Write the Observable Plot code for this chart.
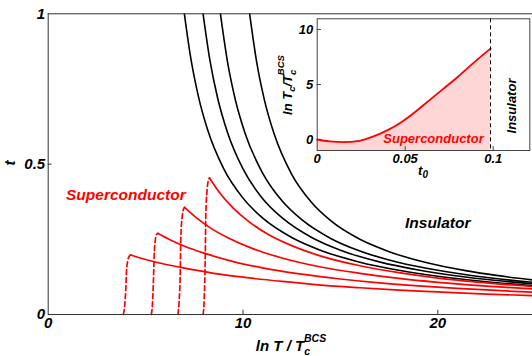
<!DOCTYPE html>
<html><head><meta charset="utf-8">
<script src="https://cdn.jsdelivr.net/npm/d3@7"></script>
<script src="https://cdn.jsdelivr.net/npm/@observablehq/plot@0.6"></script>
<style>
body{margin:0;background:#fff;}
#wrap{position:relative;width:532px;height:356px;overflow:hidden;}
</style></head><body><div id="wrap"></div>
<script>
// ---- Main chart data: t vs ln T/Tc^BCS ----
const xTicks = [0, 10, 20];
const yTicks = [0, 0.5, 1];

const black1X = [6.99, 7.3, 7.7, 8.2, 9, 10, 11, 12.5, 14, 16, 18, 20, 22.5, 24.86];
const black1T = [1.0, 0.860, 0.728, 0.611, 0.486, 0.387, 0.321, 0.256, 0.213, 0.174, 0.147, 0.127, 0.109, 0.096];
const black2X = [7.95, 8.3, 8.7, 9.2, 10, 11, 12, 13.5, 15, 17, 19, 21, 23, 24.86];
const black2T = [1.0, 0.846, 0.719, 0.606, 0.484, 0.386, 0.322, 0.257, 0.214, 0.175, 0.148, 0.128, 0.113, 0.102];
const black3X = [8.84, 9.2, 9.6, 10.1, 11, 12, 13, 14.5, 16, 18, 20, 22, 24.86];
const black3T = [1.0, 0.842, 0.716, 0.604, 0.471, 0.378, 0.316, 0.253, 0.211, 0.173, 0.147, 0.127, 0.107];
const black4X = [10.34, 10.7, 11.1, 11.6, 12.5, 13.5, 14.5, 16, 17.5, 19.5, 21.5, 23, 24.86];
const black4T = [1.0, 0.840, 0.713, 0.600, 0.466, 0.374, 0.312, 0.250, 0.209, 0.171, 0.145, 0.130, 0.115];

const red1X = [4.24, 5, 6, 7, 8.5, 10, 12, 14, 16, 18, 20, 22.5, 24.86];
const red1T = [0.198, 0.183, 0.167, 0.154, 0.137, 0.124, 0.110, 0.098, 0.089, 0.081, 0.075, 0.068, 0.063];
const red2X = [5.62, 6.3, 7, 8, 9.5, 11, 13, 15, 17, 19, 21, 23, 24.86];
const red2T = [0.270, 0.247, 0.227, 0.204, 0.176, 0.155, 0.134, 0.118, 0.105, 0.095, 0.087, 0.080, 0.074];
const red3X = [7.0, 7.6, 8.3, 9.2, 10.5, 12, 14, 16, 18, 20, 22.5, 24.86];
const red3T = [0.356, 0.322, 0.289, 0.256, 0.219, 0.188, 0.158, 0.137, 0.120, 0.107, 0.0945, 0.085];
const red4X = [8.28, 8.8, 9.5, 10.3, 11.3, 12.5, 14, 16, 18, 20, 22.5, 24.86];
const red4T = [0.454, 0.405, 0.354, 0.309, 0.266, 0.229, 0.194, 0.162, 0.139, 0.121, 0.105, 0.093];

const dash1X = [3.85, 3.92, 3.98, 4.02, 4.08, 4.15, 4.24];
const dash1T = [0, 0.025, 0.08, 0.145, 0.178, 0.193, 0.198];
const dash2X = [5.29, 5.35, 5.40, 5.44, 5.49, 5.55, 5.62];
const dash2T = [0, 0.033, 0.108, 0.197, 0.243, 0.263, 0.270];
const dash3X = [6.66, 6.72, 6.78, 6.81, 6.87, 6.93, 7.0];
const dash3T = [0, 0.043, 0.142, 0.26, 0.32, 0.347, 0.356];
const dash4X = [7.95, 8.01, 8.06, 8.09, 8.15, 8.21, 8.28];
const dash4T = [0, 0.054, 0.182, 0.331, 0.409, 0.443, 0.454];

// ---- Inset data: ln Tc/Tc^BCS vs t0 ----
const t0 = [0, 0.007, 0.015, 0.024, 0.032, 0.04, 0.048, 0.056, 0.064, 0.072, 0.08, 0.088, 0.0985];
const lnTc = [0, -0.17, -0.24, -0.12, 0.28, 0.85, 1.6, 2.55, 3.6, 4.65, 5.7, 6.85, 8.27];
const t0Critical = [0.0985];
const insetXTicks = [0, 0.05, 0.1];
const insetYTicks = [0, 5, 10];

const rows = (xs, ts, id) => xs.map((x, i) => ({x, t: ts[i], id}));
const blackRows = [rows(black1X, black1T, "b1"), rows(black2X, black2T, "b2"), rows(black3X, black3T, "b3"), rows(black4X, black4T, "b4")].flat();
const redRows = [rows(red1X, red1T, "r1"), rows(red2X, red2T, "r2"), rows(red3X, red3T, "r3"), rows(red4X, red4T, "r4")].flat();
const dashRows = [rows(dash1X, dash1T, "d1"), rows(dash2X, dash2T, "d2"), rows(dash3X, dash3T, "d3"), rows(dash4X, dash4T, "d4")].flat();
const insetRows = t0.map((x, i) => ({t0: x, v: lnTc[i]}));

const FONT = '"Liberation Sans", Arial, sans-serif';
const RED = "#ff0000";
const AX = "#333";

const main = Plot.plot({
  width: 532, height: 356,
  marginLeft: 47.7, marginRight: 0, marginTop: 13.3, marginBottom: 42,
  style: {fontFamily: FONT, fontWeight: "bold", fontStyle: "italic", fontSize: "15px", background: "white", color: "black"},
  x: {domain: [0, 24.86], label: null},
  y: {domain: [0, 1], label: null},
  marks: [
    Plot.line(blackRows, {x: "x", y: "t", z: "id", stroke: "black", strokeWidth: 1.6, curve: "monotone-x", clip: true}),
    Plot.line(redRows, {x: "x", y: "t", z: "id", stroke: RED, strokeWidth: 1.7, curve: "monotone-x", clip: true}),
    Plot.line(dashRows, {x: "x", y: "t", z: "id", stroke: RED, strokeWidth: 1.7, strokeDasharray: "5,3", curve: "monotone-x"}),
    Plot.ruleY([0], {stroke: AX}),
    Plot.ruleY([1], {stroke: AX}),
    Plot.ruleX([0], {stroke: AX}),
    Plot.ruleX(xTicks.slice(1), {y1: 0, y2: 0.014, stroke: AX}),
    Plot.ruleY([0.5], {x1: 0, x2: 0.2, stroke: AX}),
    Plot.axisX({ticks: xTicks, tickSize: 0, tickPadding: 3, tickFormat: d => `${d}`, label: null}),
    Plot.axisY({ticks: yTicks, tickSize: 0, tickPadding: 3, tickFormat: d => `${d}`, label: null})
  ]
});

const sm = d3.select(main);
sm.append("text").attr("transform", "translate(15,163) rotate(-90)").attr("text-anchor", "middle")
  .style("font-size", "15px").text("t");
const xl = sm.append("text").attr("x", 291).attr("y", 351).attr("text-anchor", "middle").style("font-size", "15px");
xl.append("tspan").text("ln T / T");
xl.append("tspan").attr("dy", 4).style("font-size", "10.5px").text("c");
xl.append("tspan").attr("dx", -6).attr("dy", -13).style("font-size", "10.5px").text("BCS");
sm.append("text").attr("x", 66).attr("y", 199.5).attr("text-anchor", "start").attr("fill", RED)
  .style("font-size", "15.5px").text("Superconductor");
sm.append("text").attr("x", 405).attr("y", 228.3).attr("text-anchor", "start").attr("fill", "black")
  .style("font-size", "15.5px").text("Insulator");

const inset = Plot.plot({
  width: 262, height: 185,
  marginLeft: 46.7, marginRight: 2.7, marginTop: 18.3, marginBottom: 35,
  style: {fontFamily: FONT, fontWeight: "bold", fontStyle: "italic", fontSize: "13px", background: "transparent",
          position: "absolute", left: "270px", top: "0px", color: "black"},
  x: {domain: [0, 0.1208], label: null},
  y: {domain: [-1, 10.97], label: null},
  marks: [
    Plot.frame({fill: "white", stroke: "none"}),
    Plot.areaY(insetRows, {x: "t0", y1: -1, y2: "v", fill: "#ffd6d6", curve: "monotone-x"}),
    Plot.line(insetRows, {x: "t0", y: "v", stroke: RED, strokeWidth: 1.8, curve: "monotone-x"}),
    Plot.ruleX(t0Critical, {stroke: "black", strokeWidth: 1, strokeDasharray: "4,3"}),
    Plot.ruleY(insetYTicks, {x1: 0, x2: 0.0024, stroke: "#444"}),
    Plot.ruleX(insetXTicks.slice(1), {y1: -1, y2: -0.64, stroke: "#444"}),
    Plot.axisX({ticks: insetXTicks, tickSize: 0, tickPadding: 3, tickFormat: d => `${d}`, label: null}),
    Plot.axisY({ticks: insetYTicks, tickSize: 0, tickPadding: 4, tickFormat: d => `${d}`, label: null}),
    Plot.frame({stroke: "#444", strokeWidth: 1})
  ]
});

const si = d3.select(inset);
si.append("text").attr("x", 113.3).attr("y", 143).attr("text-anchor", "start").attr("fill", RED)
  .style("font-size", "13px").text("Superconductor");
si.append("text").attr("transform", "translate(246,106) rotate(-90)").attr("text-anchor", "middle")
  .style("font-size", "13px").text("Insulator");
const yl = si.append("text").attr("transform", "translate(22,85) rotate(-90)").attr("text-anchor", "middle").style("font-size", "13px");
yl.append("tspan").text("ln T");
yl.append("tspan").attr("dy", 3).style("font-size", "9.5px").text("c");
yl.append("tspan").attr("dy", -3).text("/T");
yl.append("tspan").attr("dy", 3.5).style("font-size", "9.5px").text("c");
yl.append("tspan").attr("dx", -5.5).attr("dy", -12).style("font-size", "9.5px").text("BCS");
const tl = si.append("text").attr("x", 153).attr("y", 175).attr("text-anchor", "middle").style("font-size", "13px");
tl.append("tspan").text("t");
tl.append("tspan").attr("dy", 3).style("font-size", "10px").text("0");

const wrap = document.getElementById("wrap");
wrap.appendChild(main);
wrap.appendChild(inset);
</script>
</body></html>
